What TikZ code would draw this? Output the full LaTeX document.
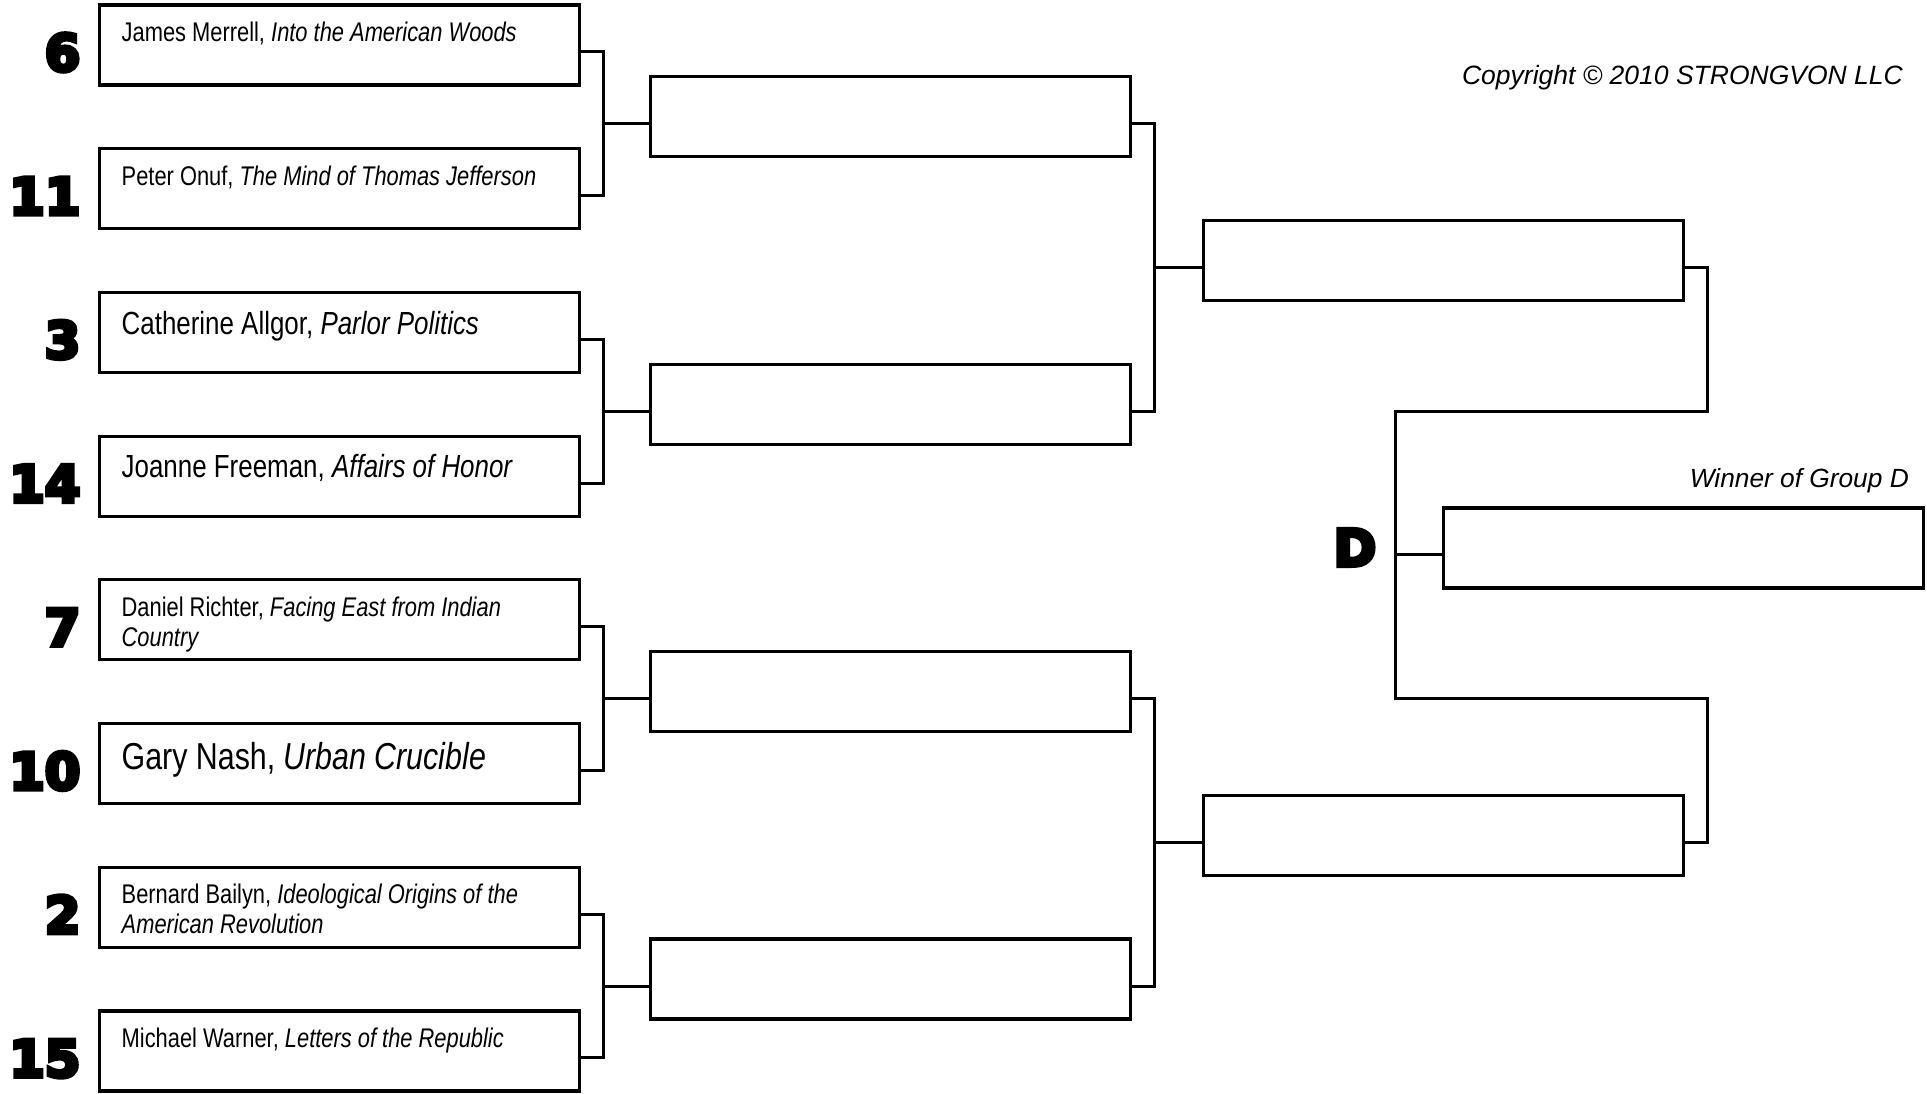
\documentclass[tikz,border=0pt]{standalone}
\usepackage{fontspec}
\usepackage{tikz}
\usetikzlibrary{positioning}
\setmainfont{Liberation Sans}
\newfontfamily\narrowfont[FakeStretch=0.81]{Liberation Sans}
\newfontfamily\seedfont[FakeBold=8]{DejaVu Sans Bold}

\begin{document}
\begin{tikzpicture}[x=1pt, y=-1pt,
  node distance=63.7pt,
  slot/.style={draw, line width=3.2pt, minimum width=480pt, minimum height=80pt, inner sep=0pt, outer sep=0pt},
  title/.style={anchor=base west, inner sep=0pt, align=left, font=\narrowfont\fontsize{27}{30}\selectfont},
  seed/.style={anchor=base east, inner sep=0pt, font=\seedfont\fontsize{51}{51}\selectfont},
  note/.style={anchor=base east, inner sep=0pt, font=\itshape\fontsize{26.5}{26.5}\selectfont},
  link/.style={line width=3pt}
]
  \useasboundingbox (0,0) rectangle (1927,1094);

  % first round
  \node[slot] (s6) at (339.5,45) {};
  \node[slot, below=of s6] (s11) {};
  \node[slot, below=of s11] (s3) {};
  \node[slot, below=of s3] (s14) {};
  \node[slot, below=of s14] (s7) {};
  \node[slot, below=of s7] (s10) {};
  \node[slot, below=of s10] (s2) {};
  \node[slot, below=of s2] (s15) {};

  \node[title] (t6) at ([xshift=22pt, yshift=3.5pt]s6.west) {James Merrell, \textit{Into the American Woods}};
  \node[title] (t11) at ([xshift=22pt, yshift=3.5pt]s11.west) {Peter Onuf, \textit{The Mind of Thomas Jefferson}};
  \node[title, font=\narrowfont\fontsize{32}{36}\selectfont] (t3) at ([xshift=22pt, yshift=-1.7pt]s3.west) {Catherine Allgor, \textit{Parlor Politics}};
  \node[title, font=\narrowfont\fontsize{32}{36}\selectfont] (t14) at ([xshift=22pt, yshift=-1.7pt]s14.west) {Joanne Freeman, \textit{Affairs of Honor}};
  \node[title] (t7) at ([xshift=22pt, yshift=-26.5pt]s7.west) {Daniel Richter, \textit{Facing East from Indian}\\\textit{Country}};
  \node[title, font=\narrowfont\fontsize{37.5}{40}\selectfont] (t10) at ([xshift=22pt, yshift=-5.5pt]s10.west) {Gary Nash, \textit{Urban Crucible}};
  \node[title] (t2) at ([xshift=22pt, yshift=-26.5pt]s2.west) {Bernard Bailyn, \textit{Ideological Origins of the}\\\textit{American Revolution}};
  \node[title] (t15) at ([xshift=22pt, yshift=3.5pt]s15.west) {Michael Warner, \textit{Letters of the Republic}};

  % seeds
  \foreach \b/\n in {s6/6, s11/11, s3/3, s14/14, s7/7, s10/10, s2/2, s15/15}
    \node[seed] (n\n) at ([xshift=-19pt, yshift=-26pt]\b.west) {\n};

  % later rounds
  \node[slot] (q1) at (890.5,116.85) {};
  \node[slot] (q2) at (890.5,404.25) {};
  \node[slot] (q3) at (890.5,691.65) {};
  \node[slot] (q4) at (890.5,979.05) {};
  \node[slot] (h1) at (1443.5,260.55) {};
  \node[slot] (h2) at (1443.5,835.35) {};
  \node[slot] (win) at (1683.5,547.95) {};

  \foreach \a/\b/\m in {s6/s11/q1, s3/s14/q2, s7/s10/q3, s2/s15/q4} {
    \draw[link] ([yshift=-7pt]\a.east) -- ++(23.5,0) |- ([yshift=-7pt]\b.east);
    \draw[link] ([yshift=-7pt]\m.west) -- ++(-47.5,0);
  }
  \foreach \a/\b/\m in {q1/q2/h1, q3/q4/h2} {
    \draw[link] ([yshift=-7pt]\a.east) -- ++(23.5,0) |- ([yshift=-7pt]\b.east);
    \draw[link] ([yshift=-7pt]\m.west) -- ++(-49.5,0);
  }

  \coordinate (jt) at (1395,411.25);
  \coordinate (jb) at (1395,698.65);
  \draw[link] ([yshift=-7pt]h1.east) -| (1707,411.25) -- (jt) -- (jb) -- (1707,698.65) |- ([yshift=-7pt]h2.east);
  \draw[link] ([yshift=-7pt]win.west) -- ++(-48.5,0);

  \node[seed, anchor=base] (grp) at (1355,566) {D};
  \node[note, font=\itshape\fontsize{26.3}{26.3}\selectfont] (wlab) at (1909,487) {Winner of Group D};
  \node[note] (copy) at (1903,85) {Copyright © 2010 STRONGVON LLC};
\end{tikzpicture}
\end{document}
